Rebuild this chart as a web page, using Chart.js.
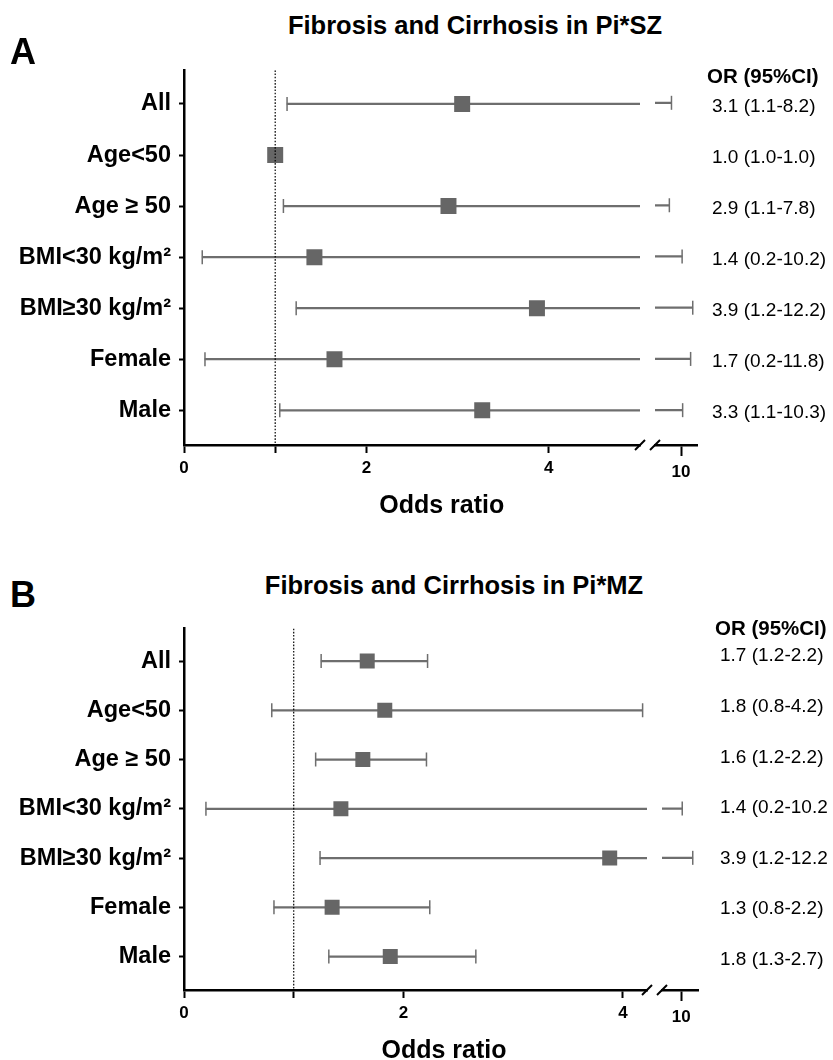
<!DOCTYPE html>
<html>
<head>
<meta charset="utf-8">
<script src="https://cdn.jsdelivr.net/npm/chart.js@4.4.1/dist/chart.umd.min.js"></script>
<style>
html,body{margin:0;padding:0;background:#fff;}
body{width:833px;height:1060px;position:relative;overflow:hidden;font-family:"Liberation Sans",Arial,Helvetica,sans-serif;}
canvas{position:absolute;}
.t{position:absolute;white-space:nowrap;color:#000;line-height:1;}
</style>
</head>
<body>
<script>
// ---------------- data ----------------
const categories = ['All', 'Age<50', 'Age \u2265 50', 'BMI<30 kg/m\u00B2', 'BMI\u226530 kg/m\u00B2', 'Female', 'Male'];

// Panel A: Pi*SZ
const szOR   = [3.05, 1.0, 2.9, 1.43, 3.87, 1.65, 3.27];
const szLow  = [1.13, 1.0, 1.09, 0.2, 1.23, 0.23, 1.05];
const szHigh = [8.2, 1.0, 7.8, 10.2, 12.2, 11.8, 10.3];
const szText = ['3.1 (1.1-8.2)', '1.0 (1.0-1.0)', '2.9 (1.1-7.8)', '1.4 (0.2-10.2)', '3.9 (1.2-12.2)', '1.7 (0.2-11.8)', '3.3 (1.1-10.3)'];

// Panel B: Pi*MZ
const mzOR   = [1.67, 1.83, 1.63, 1.43, 3.88, 1.35, 1.88];
const mzLow  = [1.25, 0.8, 1.2, 0.2, 1.24, 0.82, 1.32];
const mzHigh = [2.22, 4.18, 2.21, 10.2, 12.2, 2.24, 2.66];
const mzText = ['1.7 (1.2-2.2)', '1.8 (0.8-4.2)', '1.6 (1.2-2.2)', '1.4 (0.2-10.2', '3.9 (1.2-12.2', '1.3 (0.8-2.2)', '1.8 (1.3-2.7)'];

// axis ticks
const leftTickValues  = [0, 1, 2, 4];
const leftTickLabels  = ['0', '', '2', '4'];
const rightTickValues = [10];
const rightTickLabels = ['10'];
const refValue = 1;

// ---------------- layout / style ----------------
const FONT = '"Liberation Sans", Arial, Helvetica, sans-serif';
const Y_MIN = -0.66, Y_MAX = 6.68;
const LINE_COL = '#6e6e6e';
const SQ_COL = '#666666';
const X_AXIS_H = 40;

const panels = [
  { letter:'A', title:'Fibrosis and Cirrhosis in Pi*SZ', or:szOR, lo:szLow, hi:szHigh, text:szText,
    top:59, chartH:376, leftMax:5.0, leftEnd:640, rightMin:5.1, rightMax:13.0, rightStart:655, rightEnd:697,
    sq:11.3, letterTop:33.8, titleTop:12.7, titleCenter:475, xTitleTop:491.8, xTitleCenter:441.7,
    headerLeft:707, headerTop:66, textLeft:712, textOff:(i)=>1 },
  { letter:'B', title:'Fibrosis and Cirrhosis in Pi*MZ', or:mzOR, lo:mzLow, hi:mzHigh, text:mzText,
    top:618, chartH:362, leftMax:4.22, leftEnd:647, rightMin:6.35, rightMax:13.2, rightStart:662, rightEnd:698,
    sq:10.6, letterTop:576.8, titleTop:572.7, titleCenter:454, xTitleTop:1036.7, xTitleCenter:444,
    headerLeft:715, headerTop:618.3, textLeft:720, textOff:(i)=>-6.5 + 1.4*i }
];

function addText(str, o) {
  const d = document.createElement('div');
  d.className = 't';
  d.textContent = str;
  d.style.fontSize = o.size + 'px';
  d.style.fontWeight = o.bold ? 'bold' : 'normal';
  d.style.top = o.top + 'px';
  d.style.left = (o.left !== undefined ? o.left : o.center) + 'px';
  if (o.center !== undefined) d.style.transform = 'translateX(-50%)';
  document.body.appendChild(d);
  return d;
}

function breakMark(side) {
  return {
    id: 'brk' + side,
    afterDraw(chart) {
      const a = chart.chartArea, ctx = chart.ctx;
      const x = side === 'right' ? a.right : a.left;
      const y = a.bottom;
      ctx.save();
      ctx.strokeStyle = '#000';
      ctx.lineWidth = 2;
      ctx.beginPath();
      ctx.moveTo(x - 5, y + 5);
      ctx.lineTo(x + 5, y - 5);
      ctx.stroke();
      ctx.restore();
    }
  };
}

function makeSegment(p, seg) {
  const c = document.createElement('canvas');
  c.width = seg.width; c.height = seg.height;
  c.style.left = seg.left + 'px';
  c.style.top = p.top + 'px';
  document.body.appendChild(c);

  const inRange = pt => pt.x >= seg.min && pt.x <= seg.max;
  const datasets = [];
  if (seg.isLeft) {
    datasets.push({
      type:'line', data:[{x:refValue, y:Y_MIN}, {x:refValue, y:Y_MAX}],
      borderColor:'#000', borderWidth:1.2, borderDash:[1.6, 1.6], pointRadius:0, clip:0
    });
  }
  datasets.push({
    type:'scatter', data: p.or.map((v, i) => ({x:v, y:i})).filter(inRange),
    pointStyle:'rect', pointRadius:p.sq, pointHoverRadius:p.sq,
    pointBackgroundColor:SQ_COL, pointBorderWidth:0, pointBorderColor:SQ_COL
  });
  datasets.push({
    type:'scatter',
    data: p.lo.map((v, i) => ({x:v, y:i})).concat(p.hi.map((v, i) => ({x:v, y:i}))).filter(inRange),
    pointStyle:'line', pointRotation:90, pointRadius:7, pointHoverRadius:7,
    pointBorderColor:LINE_COL, pointBorderWidth:1.5, pointBackgroundColor:LINE_COL
  });
  datasets.push({
    type:'bar', indexAxis:'y',
    data: p.lo.map((v, i) => ({x:[v, p.hi[i]], y:i})),
    backgroundColor:LINE_COL, borderWidth:0, barThickness:1.6, clip:0
  });

  return new Chart(c, {
    type:'scatter',
    data:{ datasets },
    options:{
      responsive:false, animation:false, devicePixelRatio:1, events:[],
      layout:{ padding: seg.padding },
      plugins:{ legend:{display:false}, tooltip:{enabled:false}, title:{display:false} },
      scales:{
        x:{
          type:'linear', position:'bottom', min:seg.min, max:seg.max, offset:false,
          afterBuildTicks: s => { s.ticks = seg.tickValues.map(v => ({value:v})); },
          afterFit: s => { s.height = X_AXIS_H; s.paddingLeft = 0; s.paddingRight = 0; },
          ticks:{ autoSkip:false, maxRotation:0, minRotation:0, color:'#000', padding:seg.tickPad,
                  font:{family:FONT, size:17, weight:'bold'},
                  callback:(v, idx) => seg.tickLabels[idx] },
          grid:{ display:true, drawOnChartArea:false, drawTicks:true, tickLength:seg.tickLen,
                 tickWidth:2, tickColor:'#000', color:'#000', offset:false },
          border:{ display:true, color:'#000', width:2.5 }
        },
        y:{
          type:'linear', reverse:true, min:Y_MIN, max:Y_MAX, offset:false, display:seg.isLeft,
          afterBuildTicks: s => { s.ticks = categories.map((_, i) => ({value:i})); },
          afterFit: s => {
            if (seg.isLeft) s.width = 184;
            s.paddingTop = 0; s.paddingBottom = 0;
          },
          ticks:{ autoSkip:false, color:'#000', padding:8,
                  font:{family:FONT, size:23.5, weight:'bold'},
                  callback: v => categories[v] },
          grid:{ display:true, drawOnChartArea:false, drawTicks:true, tickLength:5,
                 tickWidth:2, tickColor:'#000', color:'#000', offset:false },
          border:{ display:true, color:'#000', width:2.5 }
        }
      }
    },
    plugins:[ breakMark(seg.isLeft ? 'right' : 'left') ]
  });
}

panels.forEach(p => {
  const h = 10 + p.chartH + X_AXIS_H + 10;
  const left = makeSegment(p, {
    isLeft:true, left:0, width:p.leftEnd + 20, height:h, min:0, max:p.leftMax,
    padding:{top:10, left:0, right:20, bottom:10},
    tickValues:leftTickValues, tickLabels:leftTickLabels, tickLen:8, tickPad:5
  });
  const canvasLeft = p.leftEnd + 2;
  makeSegment(p, {
    isLeft:false, left:canvasLeft, width:833 - canvasLeft, height:h,
    min:p.rightMin, max:p.rightMax,
    padding:{top:10, left:p.rightStart - canvasLeft, right:833 - p.rightEnd, bottom:10},
    tickValues:rightTickValues, tickLabels:rightTickLabels, tickLen:11, tickPad:6
  });

  // texts
  addText(p.letter, {left:10, top:p.letterTop, size:36, bold:true});
  addText(p.title, {center:p.titleCenter, top:p.titleTop, size:25.5, bold:true});
  addText('Odds ratio', {center:p.xTitleCenter, top:p.xTitleTop, size:25, bold:true});
  addText('OR (95%CI)', {left:p.headerLeft, top:p.headerTop, size:20.5, bold:true});
  const ys = left.scales.y;
  p.text.forEach((s, i) => {
    const yc = p.top + ys.getPixelForValue(i) + p.textOff(i);
    addText(s, {left:p.textLeft, top:yc - 19 * 0.49, size:19, bold:false});
  });
});
</script>
</body>
</html>
